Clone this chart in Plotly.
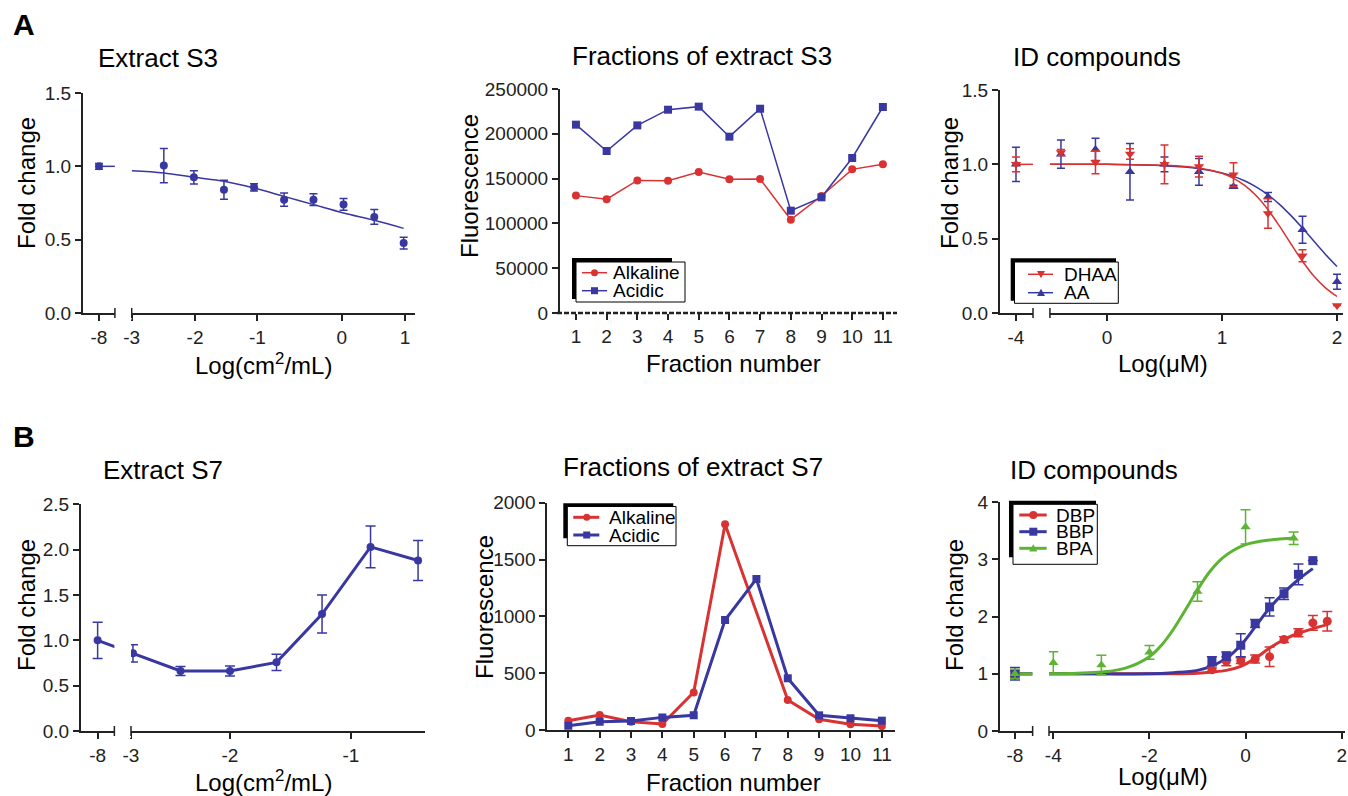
import plotly.graph_objects as go

W, H = 1348, 796
FONT = "Liberation Sans, Arial, sans-serif"
INK = "#222222"
BLUE = "#3838a0"
RED = "#d83232"
GREEN = "#5cb432"

# ---------------- data ----------------
# A: Extract S3 (dose response, control at -8)
a1_x = [-8, -2.53, -2.09, -1.65, -1.21, -0.77, -0.34, 0.10, 0.55, 0.98]
a1_y = [1.00, 1.005, 0.925, 0.84, 0.857, 0.773, 0.773, 0.74, 0.655, 0.477]
a1_err = [0.02, 0.117, 0.045, 0.065, 0.025, 0.045, 0.04, 0.04, 0.05, 0.04]
a1_fit_x = [-3.0, -2.53, -2.09, -1.65, -1.21, -0.77, -0.34, 0.10, 0.55, 0.98]
a1_fit_y = [0.97, 0.955, 0.925, 0.898, 0.852, 0.795, 0.739, 0.682, 0.632, 0.577]
a1_ctrl_fit = 1.0
a1_tick_labels = ["-8", "-3", "-2", "-1", "0", "1"]

# A: Fractions of extract S3
fractions = [1, 2, 3, 4, 5, 6, 7, 8, 9, 10, 11]
a2_alkaline = [131000, 127000, 148000, 147700, 157400, 149200, 149500, 104200, 130600, 160300, 165900]
a2_acidic = [210200, 180800, 209400, 226900, 230300, 196800, 228000, 114200, 129100, 173000, 229900]

# A: ID compounds (control at -4)
a3_x = [-4, -0.4, -0.1, 0.2, 0.5, 0.8, 1.1, 1.4, 1.7, 2.0]
a3_dhaa = [1.0, 1.08, 1.014, 1.07, 1.0, 0.985, 0.93, 0.67, 0.385, 0.05]
a3_dhaa_err = [0.05, 0.02, 0.077, 0.035, 0.13, 0.07, 0.08, 0.1, 0.04, 0.0]
a3_aa = [1.0, 1.068, 1.10, 0.95, 1.0, 0.95, 0.85, 0.78, 0.56, 0.21]
a3_aa_err = [0.115, 0.095, 0.075, 0.19, 0.05, 0.09, 0.01, 0.03, 0.09, 0.05]
a3_fit_x = [-0.5, 0.0, 0.5, 0.8, 1.0, 1.1, 1.2, 1.3, 1.4, 1.5, 1.6, 1.7, 1.8, 1.9, 2.0]
a3_dhaa_fit = [1.0, 1.0, 0.994, 0.976, 0.94, 0.906, 0.857, 0.787, 0.695, 0.584, 0.464, 0.348, 0.247, 0.169, 0.111]
a3_aa_fit = [1.0, 1.0, 0.99, 0.971, 0.942, 0.919, 0.888, 0.847, 0.795, 0.731, 0.655, 0.571, 0.482, 0.394, 0.313]
a3_ctrl_fit = 1.0
a3_tick_labels = ["-4", "0", "1", "2"]

# B: Extract S7 (control at -8)
b1_x = [-8, -2.98, -2.5, -2.0, -1.53, -1.07, -0.58, -0.1]
b1_y = [1.0, 0.857, 0.662, 0.662, 0.757, 1.29, 2.03, 1.88]
b1_err = [0.2, 0.095, 0.05, 0.055, 0.09, 0.21, 0.23, 0.22]
b1_tick_labels = ["-8", "-3", "-2", "-1"]

# B: Fractions of extract S7
b2_alkaline = [82, 132, 73, 53, 331, 1810, None, 264, 94, 50, 35]
b2_acidic = [38, 73, 79, 111, 129, 968, 1329, 455, 129, 103, 82]

# B: ID compounds (control at -8)
b3_dbp_x = [-8, -0.7, -0.4, -0.1, 0.2, 0.5, 0.8, 1.1, 1.4, 1.7]
b3_dbp = [1.0, 1.07, 1.22, 1.23, 1.26, 1.30, 1.60, 1.72, 1.89, 1.92]
b3_dbp_err = [0.05, 0.03, 0.08, 0.05, 0.07, 0.17, 0.05, 0.07, 0.13, 0.17]
b3_bbp_x = [-8, -0.7, -0.4, -0.1, 0.2, 0.5, 0.8, 1.1, 1.4]
b3_bbp = [1.0, 1.22, 1.31, 1.50, 1.88, 2.17, 2.40, 2.74, 2.98]
b3_bbp_err = [0.11, 0.08, 0.07, 0.2, 0.07, 0.16, 0.1, 0.18, 0.0]
b3_bpa_x = [-8, -4, -3, -2, -1, 0, 1]
b3_bpa = [1.0, 1.195, 1.155, 1.376, 2.44, 3.57, 3.37]
b3_bpa_err = [0.08, 0.19, 0.17, 0.12, 0.17, 0.3, 0.11]
b3_dbp_fit_x = [-4.1, -3, -2, -1.5, -1, -0.7, -0.4, -0.1, 0.2, 0.5, 0.8, 1.1, 1.4, 1.7]
b3_dbp_fit = [1.0, 1.0, 1.0, 1.0, 1.01, 1.03, 1.06, 1.13, 1.27, 1.45, 1.60, 1.71, 1.79, 1.86]
b3_bbp_fit_x = [-4.1, -3, -2, -1.5, -1.0, -0.7, -0.4, -0.1, 0.2, 0.5, 0.8, 1.1, 1.4]
b3_bbp_fit = [1.0, 1.0, 1.0, 1.02, 1.06, 1.14, 1.27, 1.50, 1.82, 2.15, 2.42, 2.65, 2.84]
b3_bpa_fit_x = [-4.1, -3.5, -3, -2.5, -2, -1.75, -1.5, -1.25, -1, -0.75, -0.5, -0.25, 0, 0.5, 1.0]
b3_bpa_fit = [1.0, 1.01, 1.03, 1.10, 1.30, 1.50, 1.78, 2.12, 2.47, 2.78, 3.01, 3.16, 3.26, 3.34, 3.37]
b3_ctrl_fit = 1.0
b3_tick_labels = ["-8", "-4", "-2", "0", "2"]

# ---------------- layout geometry (pixels) ----------------
def px(x):
    return x / W


def py(y):
    return 1 - y / H


# broken-axis settings: control position, left segment end, main segment start, range
BRK = {
    "x":  dict(ctrl=-3.479, seg_end=-3.246, start=-3.0, rng=[-3.713, 1.146]),
    "x3": dict(ctrl=-0.791, seg_end=-0.643, start=-0.496, rng=[-0.930, 2.052]),
    "x4": dict(ctrl=-3.337, seg_end=-3.168, start=-3.0, rng=[-3.505, -0.030]),
    "x6": dict(ctrl=-4.798, seg_end=-4.430, start=-4.089, rng=[-5.109, 2.069]),
}
CTRL_DOSE = {"x": -8, "x3": -4, "x4": -8, "x6": -8}


def pos(ax, xs):
    return [BRK[ax]["ctrl"] if v == CTRL_DOSE[ax] else v for v in xs]


PANEL = {
    1: dict(x=(83, 415), y=(93, 313)),
    2: dict(x=(560, 897), y=(89, 313)),
    3: dict(x=(1000, 1343), y=(90, 313)),
    4: dict(x=(81, 425), y=(504.3, 731)),
    5: dict(x=(547.3, 895), y=(502.7, 730)),
    6: dict(x=(1000, 1345), y=(502.3, 731)),
}

fig = go.Figure()


def add(tr, i):
    tr.update(xaxis="x" if i == 1 else f"x{i}", yaxis="y" if i == 1 else f"y{i}")
    fig.add_trace(tr)


def err(arr, color, w=4, th=1.5):
    return dict(type="data", array=arr, color=color, thickness=th, width=w, visible=True)


# ---- A1 ----
ax = "x"
add(go.Scatter(x=[BRK[ax]["ctrl"], BRK[ax]["seg_end"]], y=[a1_ctrl_fit, a1_ctrl_fit], mode="lines",
               line=dict(color=BLUE, width=1.5)), 1)
add(go.Scatter(x=a1_fit_x, y=a1_fit_y, mode="lines", line=dict(color=BLUE, width=1.5, shape="spline")), 1)
add(go.Scatter(x=pos(ax, a1_x), y=a1_y, mode="markers", marker=dict(color=BLUE, size=8),
               error_y=err(a1_err, BLUE)), 1)

# ---- A2 ----
add(go.Scatter(x=fractions, y=a2_alkaline, mode="lines+markers", line=dict(color=RED, width=1.5),
               marker=dict(symbol="circle", size=8, color=RED)), 2)
add(go.Scatter(x=fractions, y=a2_acidic, mode="lines+markers", line=dict(color=BLUE, width=1.5),
               marker=dict(symbol="square", size=8, color=BLUE)), 2)

# ---- A3 ----
ax = "x3"
add(go.Scatter(x=a3_fit_x, y=a3_aa_fit, mode="lines", line=dict(color=BLUE, width=1.5, shape="spline")), 3)
add(go.Scatter(x=a3_fit_x, y=a3_dhaa_fit, mode="lines", line=dict(color=RED, width=1.5, shape="spline")), 3)
add(go.Scatter(x=[BRK[ax]["ctrl"], BRK[ax]["seg_end"]], y=[a3_ctrl_fit, a3_ctrl_fit], mode="lines",
               line=dict(color=RED, width=1.5)), 3)
add(go.Scatter(x=pos(ax, a3_x), y=a3_aa, mode="markers", marker=dict(symbol="triangle-up", color=BLUE, size=9),
               error_y=err(a3_aa_err, BLUE)), 3)
add(go.Scatter(x=pos(ax, a3_x), y=a3_dhaa, mode="markers", marker=dict(symbol="triangle-down", color=RED, size=9),
               error_y=err(a3_dhaa_err, RED)), 3)

# ---- B1 ----
ax = "x4"
add(go.Scatter(x=pos(ax, b1_x), y=b1_y, mode="lines+markers", line=dict(color=BLUE, width=3),
               marker=dict(color=BLUE, size=8), error_y=err(b1_err, BLUE, w=5)), 4)

# ---- B2 ----
add(go.Scatter(x=fractions, y=b2_alkaline, mode="lines+markers", connectgaps=True, line=dict(color=RED, width=3),
               marker=dict(symbol="circle", size=8, color=RED)), 5)
add(go.Scatter(x=fractions, y=b2_acidic, mode="lines+markers", line=dict(color=BLUE, width=3),
               marker=dict(symbol="square", size=8, color=BLUE)), 5)

# ---- B3 ----
ax = "x6"
for fx, fy, col in [(b3_dbp_fit_x, b3_dbp_fit, RED), (b3_bbp_fit_x, b3_bbp_fit, BLUE), (b3_bpa_fit_x, b3_bpa_fit, GREEN)]:
    add(go.Scatter(x=fx, y=fy, mode="lines", line=dict(color=col, width=3, shape="spline")), 6)
    add(go.Scatter(x=[BRK[ax]["ctrl"], BRK[ax]["seg_end"]], y=[b3_ctrl_fit, b3_ctrl_fit], mode="lines",
                   line=dict(color=col, width=3)), 6)
add(go.Scatter(x=pos(ax, b3_dbp_x), y=b3_dbp, mode="markers", marker=dict(symbol="circle", color=RED, size=9),
               error_y=err(b3_dbp_err, RED, w=5)), 6)
add(go.Scatter(x=pos(ax, b3_bbp_x), y=b3_bbp, mode="markers", marker=dict(symbol="square", color=BLUE, size=9),
               error_y=err(b3_bbp_err, BLUE, w=5)), 6)
add(go.Scatter(x=pos(ax, b3_bpa_x), y=b3_bpa, mode="markers", marker=dict(symbol="triangle-up", color=GREEN, size=9),
               error_y=err(b3_bpa_err, GREEN, w=5)), 6)

# ---------------- axes ----------------
tickfont = dict(family=FONT, size=19, color=INK)
common = dict(showgrid=False, zeroline=False, ticks="outside", ticklen=6, tickwidth=1.5, tickcolor=INK,
              showline=True, linecolor=INK, linewidth=2, tickfont=tickfont, fixedrange=True, automargin=False)

xticks = {
    1: dict(tickvals=[BRK["x"]["ctrl"], -3, -2.073, -1.161, 0.075, 1.0], ticktext=a1_tick_labels, range=BRK["x"]["rng"]),
    2: dict(tickvals=fractions, ticktext=[str(f) for f in fractions], range=[0.48, 11.46], showline=False),
    3: dict(tickvals=[BRK["x3"]["ctrl"], 0, 1, 2], ticktext=a3_tick_labels, range=BRK["x3"]["rng"]),
    4: dict(tickvals=[BRK["x4"]["ctrl"], -3, -2, -0.778], ticktext=b1_tick_labels, range=BRK["x4"]["rng"]),
    5: dict(tickvals=fractions, ticktext=[str(f) for f in fractions], range=[0.33, 11.42]),
    6: dict(tickvals=[BRK["x6"]["ctrl"], -4, -2, 0, 2], ticktext=b3_tick_labels, range=BRK["x6"]["rng"]),
}
yticks = {
    1: dict(range=[0, 1.5], tickvals=[0, 0.5, 1.0, 1.5], tickformat=".1f"),
    2: dict(range=[0, 250000], tickvals=[0, 50000, 100000, 150000, 200000, 250000], tickformat="d"),
    3: dict(range=[0, 1.5], tickvals=[0, 0.5, 1.0, 1.5], tickformat=".1f"),
    4: dict(range=[0, 2.5], tickvals=[0, 0.5, 1.0, 1.5, 2.0, 2.5], tickformat=".1f"),
    5: dict(range=[0, 2000], tickvals=[0, 500, 1000, 1500, 2000], tickformat="d"),
    6: dict(range=[0, 4], tickvals=[0, 1, 2, 3, 4], tickformat="d"),
}

layout_axes = {}
for i, p in PANEL.items():
    xn = "xaxis" if i == 1 else f"xaxis{i}"
    yn = "yaxis" if i == 1 else f"yaxis{i}"
    ya = "y" if i == 1 else f"y{i}"
    xa = "x" if i == 1 else f"x{i}"
    xd = dict(common, domain=[px(p["x"][0]), px(p["x"][1])], anchor=ya)
    xd.update(xticks[i])
    yd = dict(common, domain=[py(p["y"][1]), py(p["y"][0])], anchor=xa)
    yd.update(yticks[i])
    layout_axes[xn] = xd
    layout_axes[yn] = yd

fig.update_layout(**layout_axes)

# ---------------- shapes ----------------
shapes = []
# broken axis masks and break marks
for i, axn in [(1, "x"), (3, "x3"), (4, "x4"), (6, "x6")]:
    b = BRK[axn]
    ya = "y" if i == 1 else f"y{i}"
    shapes.append(dict(type="rect", xref=axn, yref=f"{ya} domain", x0=b["seg_end"], x1=b["start"],
                       y0=-0.03, y1=1.0, fillcolor="white", line=dict(width=0), layer="above"))
    ybot = PANEL[i]["y"][1]
    for xv in (b["seg_end"], b["start"]):
        shapes.append(dict(type="line", xref=axn, yref="paper", x0=xv, x1=xv, y0=py(ybot - 5), y1=py(ybot + 5),
                           line=dict(color=INK, width=1.5), layer="above"))

# dashed x axis line of A2
shapes.append(dict(type="line", xref="paper", yref="paper", x0=px(557), x1=px(897), y0=py(313), y1=py(313),
                   line=dict(color=INK, width=2.5, dash="5px,2px"), layer="above"))

annotations = []


def legend(box, shadow, entries, lx0, lx1, mx, tx, lw, msz):
    shapes.append(dict(type="rect", xref="paper", yref="paper", x0=px(shadow[0]), x1=px(shadow[2]),
                       y0=py(shadow[3]), y1=py(shadow[1]), fillcolor="black", line=dict(width=0), layer="above"))
    shapes.append(dict(type="rect", xref="paper", yref="paper", x0=px(box[0]), x1=px(box[2]),
                       y0=py(box[3]), y1=py(box[1]), fillcolor="white", line=dict(color="black", width=1),
                       layer="above"))
    for (label, color, sym, yy) in entries:
        shapes.append(dict(type="line", xref="paper", yref="paper", x0=px(lx0), x1=px(lx1), y0=py(yy), y1=py(yy),
                           line=dict(color=color, width=lw), layer="above"))
        r = msz / 2
        if sym == "circle":
            shapes.append(dict(type="circle", xref="paper", yref="paper", x0=px(mx - r), x1=px(mx + r),
                               y0=py(yy + r), y1=py(yy - r), fillcolor=color, line=dict(width=0), layer="above"))
        elif sym == "square":
            shapes.append(dict(type="rect", xref="paper", yref="paper", x0=px(mx - r), x1=px(mx + r),
                               y0=py(yy + r), y1=py(yy - r), fillcolor=color, line=dict(width=0), layer="above"))
        else:
            if sym == "up":
                pts = [(mx - r, yy + r * 0.8), (mx + r, yy + r * 0.8), (mx, yy - r)]
            else:
                pts = [(mx - r, yy - r * 0.8), (mx + r, yy - r * 0.8), (mx, yy + r)]
            path = "M " + " L ".join(f"{px(a):.5f},{py(c):.5f}" for a, c in pts) + " Z"
            shapes.append(dict(type="path", xref="paper", yref="paper", path=path, fillcolor=color,
                               line=dict(width=0), layer="above"))
        annotations.append(dict(text=label, xref="paper", yref="paper", x=px(tx), y=py(yy), xanchor="left",
                                yanchor="middle", showarrow=False, font=dict(family=FONT, size=19, color="black")))


legend((576, 262, 685, 302), (572, 258, 672, 299),
       [("Alkaline", RED, "circle", 272.7), ("Acidic", BLUE, "square", 290.7)], 582, 607, 594.5, 611, 1.5, 7)
legend((1014.5, 262, 1118.3, 303.3), (1010.7, 258.3, 1116, 300.7),
       [("DHAA", RED, "down", 274.3), ("AA", BLUE, "up", 292.7)], 1028, 1053, 1041, 1062, 1.5, 8)
legend((567.3, 506.5, 676, 545.7), (563.3, 503.3, 673.3, 538.3),
       [("Alkaline", RED, "circle", 517.3), ("Acidic", BLUE, "square", 535)], 573.3, 599.3, 586.7, 607.3, 3, 7)
legend((1013, 504.3, 1097.3, 564.3), (1009, 500.7, 1096, 557.3),
       [("DBP", RED, "circle", 515), ("BBP", BLUE, "square", 531.7), ("BPA", GREEN, "up", 548.3)],
       1019.3, 1046.7, 1033.3, 1054, 3, 8)


def text(t, x, y, size, angle=0, bold=False):
    annotations.append(dict(text=f"<b>{t}</b>" if bold else t, xref="paper", yref="paper", x=px(x), y=py(y),
                            xanchor="center", yanchor="middle", showarrow=False, textangle=angle,
                            font=dict(family=FONT, size=size, color="black")))


text("A", 24, 24, 30, bold=True)
text("B", 24, 436, 30, bold=True)
text("Extract S3", 158, 58, 26)
text("Fractions of extract S3", 702, 56, 26)
text("ID compounds", 1097, 57, 26)
text("Extract S7", 163, 470, 26)
text("Fractions of extract S7", 693, 467, 26)
text("ID compounds", 1094, 470, 26)

text("Fold change", 26, 183, 24, angle=-90)
text("Log(cm<sup>2</sup>/mL)", 263, 364, 24)
text("Fluorescence", 469, 186, 24, angle=-90)
text("Fraction number", 733, 363, 24)
text("Fold change", 949, 183, 24, angle=-90)
text("Log(μM)", 1163, 363, 24)
text("Fold change", 26, 605, 24, angle=-90)
text("Log(cm<sup>2</sup>/mL)", 263, 781, 24)
text("Fluorescence", 484, 607, 24, angle=-90)
text("Fraction number", 733, 782, 24)
text("Fold change", 954, 605, 24, angle=-90)
text("Log(μM)", 1163, 776, 24)

fig.update_layout(width=W, height=H, autosize=False,
                  margin=dict(l=0, r=0, t=0, b=0, pad=0, autoexpand=False), paper_bgcolor="white",
                  plot_bgcolor="white", showlegend=False, shapes=shapes, annotations=annotations,
                  font=dict(family=FONT, color=INK))

fig.write_html("out.html", config=dict(responsive=False, displayModeBar=False),
               post_script="document.body.style.margin='0';document.body.style.overflow='hidden';")
